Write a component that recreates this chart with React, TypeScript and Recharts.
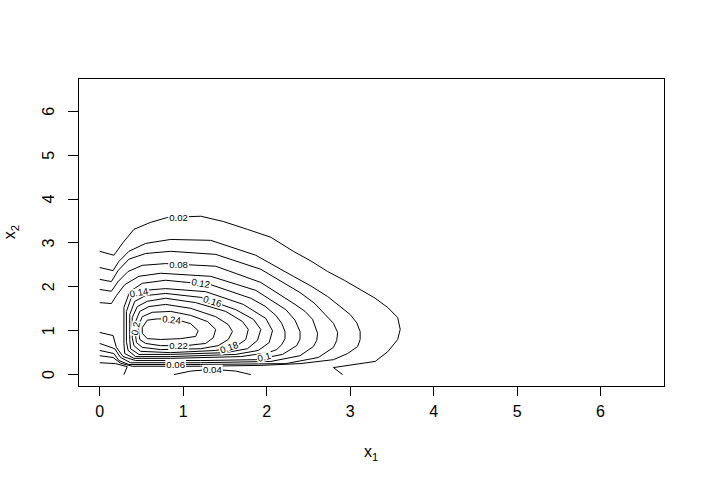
import React from 'react';
import { ComposedChart, Scatter, XAxis, YAxis, ReferenceArea, Label } from 'recharts';

const xTicks = [0, 1, 2, 3, 4, 5, 6];
const yTicks = [0, 1, 2, 3, 4, 5, 6];
const axisDomain = [-0.26, 6.76];

// contour polylines, data units (x1, x2)
const c02a = [[0,2.81],[0.17,2.72],[0.28,3.01],[0.41,3.31],[0.61,3.47],[0.81,3.58],[1.21,3.61],[1.48,3.49],[1.77,3.31],[2.05,3.13],[2.32,2.81],[2.53,2.59],[2.73,2.35],[2.93,2.15],[3.12,1.94],[3.30,1.74],[3.45,1.53],[3.57,1.30],[3.60,1.03],[3.57,0.80],[3.45,0.52],[3.30,0.30],[2.80,0.16],[2.91,0.0]];
const c02b = [[0,0.27],[0.19,0.25],[0.33,0.18],[0.29,0]];
const c04a = [[0,2.44],[0.16,2.37],[0.23,2.58],[0.35,2.81],[0.55,2.99],[0.85,3.08],[1.33,3.06],[1.87,2.72],[2.32,2.24],[2.53,2.02],[2.73,1.78],[3.00,1.37],[3.08,1.18],[3.12,0.98],[3.12,0.80],[3.09,0.64],[2.97,0.48],[2.80,0.34],[2.40,0.25],[1.93,0.21],[1.21,0.19],[0.39,0.19],[0.25,0.26],[0.16,0.39],[0,0.43]];
const c04b = [[0.89,0],[1.09,0.08],[1.35,0.12],[1.63,0.08],[1.81,0]];
const c06 = [[0,2.17],[0.14,2.12],[0.22,2.37],[0.35,2.63],[0.55,2.76],[0.85,2.81],[1.39,2.74],[1.93,2.40],[2.40,1.87],[2.57,1.63],[2.70,1.37],[2.80,1.17],[2.85,0.96],[2.84,0.78],[2.80,0.62],[2.62,0.39],[2.23,0.25],[1.21,0.23],[0.35,0.23],[0.23,0.32],[0.17,0.48],[0,0.55]];
const c08 = [[0,1.94],[0.14,1.90],[0.22,2.12],[0.34,2.35],[0.51,2.49],[0.79,2.53],[1.39,2.47],[1.93,2.10],[2.34,1.60],[2.46,1.44],[2.55,1.26],[2.61,0.94],[2.60,0.78],[2.56,0.64],[2.40,0.43],[2.05,0.30],[1.21,0.27],[0.37,0.27],[0.25,0.39],[0.18,0.59],[0,0.71]];
const c10 = [[0,1.64],[0.14,1.62],[0.20,1.80],[0.30,2.05],[0.47,2.24],[0.73,2.31],[1.33,2.24],[1.87,1.92],[2.23,1.48],[2.34,1.24],[2.40,0.98],[2.40,0.81],[2.36,0.66],[2.19,0.46],[1.87,0.34],[1.21,0.32],[0.43,0.32],[0.28,0.41],[0.20,0.62],[0.16,0.89],[0,0.96]];
const c12 = [[0.29,0.71],[0.29,1.53],[0.36,1.89],[0.51,2.08],[0.79,2.15],[1.33,2.05],[1.81,1.74],[1.98,1.56],[2.11,1.35],[2.18,1.17],[2.22,0.98],[2.22,0.82],[2.18,0.68],[2.12,0.57],[2.02,0.50],[1.69,0.41],[0.85,0.37],[0.41,0.37],[0.30,0.48],[0.29,0.71]];
const c14 = [[0.32,0.75],[0.32,1.44],[0.38,1.76],[0.53,1.92],[0.79,1.96],[1.27,1.89],[1.72,1.60],[1.99,1.28],[2.07,1.00],[2.03,0.73],[1.90,0.55],[1.63,0.46],[0.85,0.41],[0.43,0.41],[0.34,0.55],[0.32,0.75]];
const c16 = [[0.36,0.80],[0.36,1.37],[0.42,1.67],[0.55,1.80],[0.79,1.85],[1.21,1.76],[1.63,1.48],[1.84,1.26],[1.93,1.03],[1.89,0.78],[1.77,0.59],[1.51,0.50],[0.85,0.46],[0.47,0.46],[0.37,0.59],[0.36,0.80]];
const c18 = [[0.39,0.84],[0.39,1.30],[0.45,1.55],[0.57,1.67],[0.79,1.74],[1.15,1.64],[1.51,1.44],[1.71,1.21],[1.78,1.03],[1.75,0.80],[1.63,0.64],[1.39,0.55],[0.85,0.50],[0.49,0.53],[0.41,0.66],[0.39,0.84]];
const c20 = [[0.43,0.89],[0.43,1.21],[0.48,1.44],[0.59,1.55],[0.79,1.60],[1.09,1.51],[1.39,1.32],[1.54,1.14],[1.59,0.98],[1.54,0.80],[1.42,0.66],[1.21,0.59],[0.73,0.57],[0.51,0.62],[0.44,0.73],[0.43,0.89]];
const c22 = [[0.47,0.91],[0.47,1.14],[0.51,1.32],[0.63,1.42],[0.85,1.44],[1.09,1.35],[1.29,1.21],[1.39,1.03],[1.36,0.84],[1.27,0.71],[1.03,0.66],[0.73,0.66],[0.55,0.71],[0.48,0.80],[0.47,0.91]];
const c24 = [[0.51,1.07],[0.57,1.24],[0.69,1.27],[0.91,1.26],[1.09,1.16],[1.18,1.00],[1.15,0.87],[0.97,0.82],[0.73,0.80],[0.57,0.82],[0.51,0.94],[0.51,1.07]];

const contourLines = [c02a, c02b, c04a, c04b, c06, c08, c10, c12, c14, c16, c18, c20, c22, c24];

// contour labels
const labelText = ['0.02', '0.04', '0.06', '0.08', '0.1', '0.12', '0.14', '0.16', '0.18', '0.2', '0.22', '0.24'];
const labelX = [0.945, 1.35, 0.91, 0.945, 1.97, 1.21, 0.47, 1.35, 1.55, 0.43, 0.945, 0.86];
const labelY = [3.58, 0.12, 0.23, 2.51, 0.40, 2.08, 1.87, 1.67, 0.62, 1.05, 0.66, 1.25];
const labelAngle = [0, 0, 0, 0, -15, 10, -10, 17, -20, -80, 0, 5];

const FONT = '"Liberation Sans", Arial, Helvetica, sans-serif';

const lineSeries = contourLines.map((pts) => pts.map(([x, y]) => ({ x, y })));
const labelPoints = labelText.map((t, i) => ({ x: labelX[i], y: labelY[i], text: t, angle: labelAngle[i] }));

const charW = (c: string) => (c === '.' ? 2.67 : 5.34);

const NoDot = () => <g />;

const LabelShape = (props: any) => {
  const { cx, cy, payload } = props;
  const text: string = payload.text;
  const w = text.split('').reduce((s, c) => s + charW(c), 0) + 2;
  return (
    <g transform={`translate(${cx},${cy}) rotate(${payload.angle})`}>
      <rect x={-w / 2} y={-4.5} width={w} height={9} fill="#fff" />
      <text x={0} y={0} dy="0.35em" textAnchor="middle" fontSize={9.6} fontFamily={FONT} fill="#000">
        {text}
      </text>
    </g>
  );
};

const XTick = (props: any) => {
  const { x, y, payload } = props;
  return (
    <text x={x} y={y} dy="0.71em" textAnchor="middle" fontSize={16} fontFamily={FONT} fill="#000">
      {payload.value}
    </text>
  );
};

const YTick = (props: any) => {
  const { x, y, payload } = props;
  return (
    <text x={x} y={y} transform={`rotate(-90 ${x} ${y})`} textAnchor="middle" fontSize={16} fontFamily={FONT} fill="#000">
      {payload.value}
    </text>
  );
};

const XTitle = (props: any) => {
  const vb = props.viewBox || {};
  const cx = vb.x + vb.width / 2;
  const by = vb.y + 71;
  return (
    <text x={cx} y={by} textAnchor="middle" fontSize={16} fontFamily={FONT} fill="#000">
      x<tspan fontSize={11.2} dy={4}>1</tspan>
    </text>
  );
};

const YTitle = (props: any) => {
  const vb = props.viewBox || {};
  const cy = vb.y + vb.height / 2;
  const bx = vb.x + 15;
  return (
    <text x={bx} y={cy} transform={`rotate(-90 ${bx} ${cy})`} textAnchor="middle" fontSize={16} fontFamily={FONT} fill="#000">
      x<tspan fontSize={11.2} dy={4}>2</tspan>
    </text>
  );
};

export default function App() {
  return (
    <div style={{ position: 'absolute', left: 0, top: 0, width: 705, height: 485, background: '#fff' }}>
      <ComposedChart width={705} height={485} margin={{ top: 78, right: 41, bottom: 0, left: 0 }}>
        <XAxis
          type="number"
          dataKey="x"
          domain={axisDomain}
          ticks={xTicks}
          interval={0}
          allowDataOverflow
          axisLine={false}
          tickSize={10}
          tickMargin={10}
          height={99}
          tickLine={{ stroke: '#000', shapeRendering: 'crispEdges' }}
          tick={<XTick />}
        >
          <Label content={<XTitle />} />
        </XAxis>
        <YAxis
          type="number"
          dataKey="y"
          domain={axisDomain}
          ticks={yTicks}
          interval={0}
          allowDataOverflow
          axisLine={false}
          tickSize={10}
          tickMargin={14}
          width={78}
          tickLine={{ stroke: '#000', shapeRendering: 'crispEdges' }}
          tick={<YTick />}
        >
          <Label content={<YTitle />} />
        </YAxis>
        <ReferenceArea
          x1={axisDomain[0]}
          x2={axisDomain[1]}
          y1={axisDomain[0]}
          y2={axisDomain[1]}
          fill="none"
          fillOpacity={0}
          stroke="#000"
          strokeWidth={1}
          shapeRendering="crispEdges"
        />
        {lineSeries.map((d, i) => (
          <Scatter
            key={i}
            data={d}
            line={{ stroke: '#000', strokeWidth: 1 }}
            lineType="joint"
            shape={<NoDot />}
            isAnimationActive={false}
            legendType="none"
          />
        ))}
        <Scatter data={labelPoints} shape={<LabelShape />} isAnimationActive={false} legendType="none" />
      </ComposedChart>
    </div>
  );
}
